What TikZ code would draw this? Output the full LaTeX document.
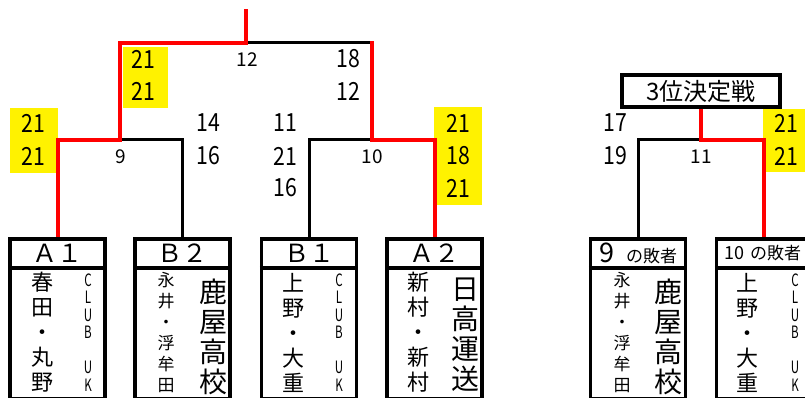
\documentclass[tikz,border=0pt]{standalone}
\usepackage{fontspec}
\setmainfont{Noto Sans CJK JP}
\newfontfamily\numfont[FakeStretch=0.85]{Noto Sans CJK JP}
\newfontfamily\narrowfont[FakeStretch=0.68]{Noto Sans CJK JP}
\pgfdeclarelayer{bg}
\pgfsetlayers{bg,main}
\begin{document}
\begin{tikzpicture}[x=1pt,y=-1pt,
  wire/.style={line width=3pt, line cap=rect},
  win/.style={line width=4pt, red, line cap=rect},
  box/.style={draw, line width=3.5pt, minimum width=95pt, minimum height=160pt, anchor=north, inner sep=0pt},
  titlebox/.style={draw, line width=3.5pt, minimum width=158pt, minimum height=32pt, inner sep=0pt, font={\fontsize{24}{24}\selectfont}},
  score/.style={inner sep=0pt, font={\numfont\fontsize{25}{25}\selectfont}},
  mlabel/.style={inner sep=0pt, font={\fontsize{19}{19}\selectfont}},
  head/.style={inner sep=0pt, font={\fontsize{25}{25}\selectfont}},
  names/.style={inner sep=0pt, align=center, font={\fontsize{22}{25}\selectfont}},
  smallnames/.style={inner sep=0pt, align=center, font={\fontsize{17}{21}\selectfont}},
  bignames/.style={inner sep=0pt, align=center, font={\fontsize{28}{30}\selectfont}},
  club/.style={inner sep=0pt, align=center, font={\narrowfont\fontsize{17}{17.5}\selectfont}},
  hilite/.style={fill=yellow}
]
\useasboundingbox (0,0) rectangle (805,398);
\clip (0,0) rectangle (805,398);

% boxes
\node[box] (A1) at (57.5,237) {};
\node[box] (B2) at (182.5,237) {};
\node[box] (B1) at (309,237) {};
\node[box] (A2) at (434.5,237) {};
\node[box] (L9) at (638,237) {};
\node[box] (L10) at (764,237) {};
\foreach \b in {A1,B2,B1,A2,L9,L10}
  \draw[line width=3.5pt] ([yshift=-31pt]\b.north west) -- ([yshift=-31pt]\b.north east);

\node[titlebox] (third) at (701,91) {3位決定戦};

% headers
\node[head] (hA1) at (57.5,253) {Ａ１};
\node[head] (hB2) at (182.5,253) {Ｂ２};
\node[head] (hB1) at (309,253) {Ｂ１};
\node[head] (hA2) at (434.5,253) {Ａ２};
\node[inner sep=0pt, anchor=base west] (hL9) at (599,262) {{\fontsize{27}{27}\selectfont 9}\hspace{12pt}{\fontsize{17}{17}\selectfont の敗者}};
\node[inner sep=0pt, anchor=base west] (hL10) at (724,259) {{\fontsize{18}{18}\selectfont 10}\hspace{6pt}{\fontsize{17}{17}\selectfont の敗者}};

% names
\node[names] (nA1) at (42,332.5) {春\\田\\・\\丸\\野};
\node[club] (cA1) at (88,332.5) {C\\L\\U\\B\\\mbox{}\\U\\K};
\node[smallnames] (nB2) at (166,332.5) {永\\井\\・\\浮\\牟\\田};
\node[bignames] (tB2) at (213,336.5) {鹿\\屋\\高\\校};
\node[names] (nB1) at (293,332.5) {上\\野\\・\\大\\重};
\node[club] (cB1) at (339,332.5) {C\\L\\U\\B\\\mbox{}\\U\\K};
\node[names] (nA2) at (418,332) {新\\村\\・\\新\\村};
\node[bignames] (tA2) at (465,335) {日\\高\\運\\送};
\node[smallnames] (nL9) at (622,332.5) {永\\井\\・\\浮\\牟\\田};
\node[bignames] (tL9) at (668,336.5) {鹿\\屋\\高\\校};
\node[names] (nL10) at (747,332.5) {上\\野\\・\\大\\重};
\node[club] (cL10) at (795,332.5) {C\\L\\U\\B\\\mbox{}\\U\\K};

% bracket coordinates
\coordinate (top) at (245.5,43);
\coordinate (topend) at (245.5,11);
\coordinate (m9) at (120,140);
\coordinate (m10) at (372,140);
\coordinate (fR) at (372,43);
\coordinate (m11) at (701,140);

\begin{pgfonlayer}{bg}
  \fill[hilite] (10,108) rectangle (58,173);
  \fill[hilite] (123,47) rectangle (168,108);
  \fill[hilite] (434,107) rectangle (482,205);
  \fill[hilite] (763,109) rectangle (805,172);
  \draw[wire] (m9) -| (B2.north);
  \draw[wire] (top) -- (fR);
  \draw[wire] (m10) -| (B1.north);
  \draw[wire] (m11) -| (L9.north);
  \draw[win] (A1.north) |- (m9) |- (top) -- (topend);
  \draw[win] (A2.north) |- (m10) -- (fR);
  \draw[win] (L10.north) |- (m11) -- (third.south);
\end{pgfonlayer}

% scores
\node[score] (f1) at (143.5,59) {21};
\node[score] (f2) at (143.5,91) {21};
\node[score] (f3) at (348,59) {18};
\node[score] (f4) at (348,91) {12};
\node[mlabel] (k12) at (247,60) {12};

\node[score] (a1) at (33.5,123) {21};
\node[score] (a2) at (33.5,156) {21};
\node[score] (a3) at (208,123) {14};
\node[score] (a4) at (208,156) {16};
\node[mlabel] (k9) at (121,157) {9};

\node[score] (b1) at (285,123) {11};
\node[score] (b2) at (285,156) {21};
\node[score] (b3) at (285,188) {16};
\node[score] (b4) at (458.5,123) {21};
\node[score] (b5) at (458.5,156) {18};
\node[score] (b6) at (458.5,188) {21};
\node[mlabel] (k10) at (372.5,157) {10};

\node[score] (c1) at (615,123) {17};
\node[score] (c2) at (615,156) {19};
\node[score] (c3) at (786,123) {21};
\node[score] (c4) at (786,156) {21};
\node[mlabel] (k11) at (701,157) {11};
\end{tikzpicture}
\end{document}
